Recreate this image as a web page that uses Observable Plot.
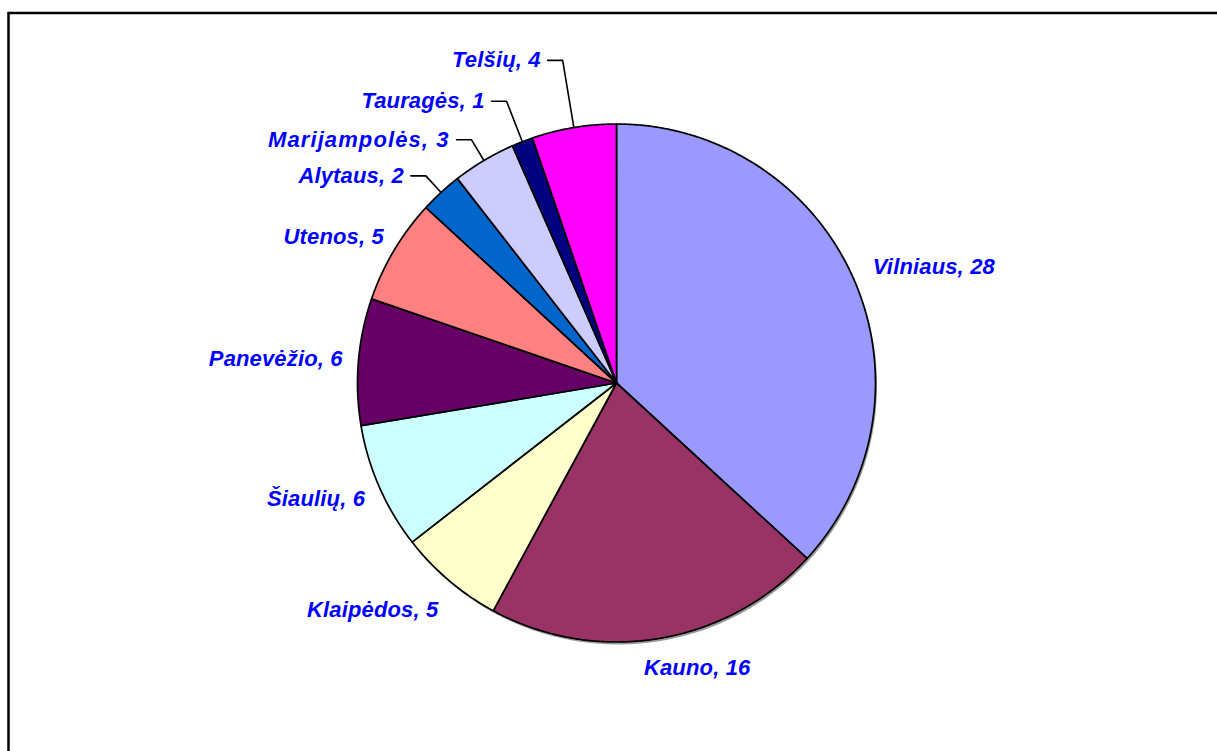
<!DOCTYPE html>
<html><head><meta charset="utf-8">
<script src="https://cdn.jsdelivr.net/npm/d3@7"></script>
<script src="https://cdn.jsdelivr.net/npm/@observablehq/plot@0.6"></script>
<style>html,body{margin:0;padding:0;background:#fff;overflow:hidden}</style>
</head><body><div id="chart"></div>
<script>
// ---- data ----
const regions = ["Vilniaus","Kauno","Klaipėdos","Šiaulių","Panevėžio","Utenos","Alytaus","Marijampolės","Tauragės","Telšių"];
const counts  = [28,16,5,6,6,5,2,3,1,4];
const colors  = ["#9999FF","#993366","#FFFFCC","#CCFFFF","#660066","#FF8080","#0066CC","#CCCCFF","#000080","#FF00FF"];
const leaderRegions = ["Alytaus","Marijampolės","Tauragės","Telšių"];

// ---- layout ----
const W = 1217, H = 751, CX = 616, CY = 382.5, R = 259;
const FONT_SIZE = 22, LS = 0.15, GAP = 20;
const leaderRadius = {"Alytaus":1.087,"Marijampolės":1.093,"Tauragės":1.168,"Telšių":1.263};
const nudge = {"Vilniaus":[6,0],"Panevėžio":[4,0],"Kauno":[26,0],"Utenos":[0,2],"Klaipėdos":[-21,6]};

const arcs = d3.pie().sort(null).value(d => d)(counts);
const slices = arcs.map((a, i) => ({
  name: regions[i], value: counts[i], color: colors[i],
  a0: a.startAngle, a1: a.endAngle, mid: (a.startAngle + a.endAngle) / 2
}));

// slice polygons in unit-circle coordinates
const slicePts = slices.flatMap(s => {
  const n = Math.max(2, Math.ceil((s.a1 - s.a0) / (Math.PI / 360)));
  const pts = [{name: s.name, color: s.color, x: 0, y: 0}];
  for (let k = 0; k <= n; k++) {
    const a = s.a0 + (s.a1 - s.a0) * k / n;
    pts.push({name: s.name, color: s.color, x: Math.sin(a), y: Math.cos(a)});
  }
  pts.push({name: s.name, color: s.color, x: 0, y: 0});
  return pts;
});
const circlePts = d3.range(0, 721).map(k => ({x: Math.sin(k * Math.PI / 360), y: Math.cos(k * Math.PI / 360)}));

// label text widths
const ctx = document.createElement("canvas").getContext("2d");
ctx.font = `italic bold ${FONT_SIZE}px 'Liberation Sans'`;
const textW = t => ctx.measureText(t).width + LS * t.length;

const labels = [];
const leaderPts = [];
for (const s of slices) {
  const text = `${s.name}, ${s.value}`;
  const sin = Math.sin(s.mid), cos = Math.cos(s.mid);
  if (leaderRegions.includes(s.name)) {
    const rb = leaderRadius[s.name];
    const bx = sin * rb, by = cos * rb;
    leaderPts.push({name: s.name, x: sin, y: cos});
    leaderPts.push({name: s.name, x: bx, y: by});
    leaderPts.push({name: s.name, x: bx - 15 / R, y: by});
    labels.push({text, x: bx - 22 / R, y: by, anchor: "end"});
  } else {
    const w = textW(text), h = 20;
    const px = (R + GAP) * sin, py = -(R + GAP) * cos; // screen px rel. to center (y down)
    let cx = px + sin * w / 2, cy = py - cos * h / 2;
    const nd = nudge[s.name] || [0, 0];
    cx += nd[0]; cy += nd[1];
    let anchor, ax;
    if (Math.abs(sin) < 0.3) { anchor = "middle"; ax = cx; }
    else if (sin > 0) { anchor = "start"; ax = cx - w / 2; }
    else { anchor = "end"; ax = cx + w / 2; }
    labels.push({text, x: ax / R, y: -cy / R, anchor});
  }
}

const textOpts = {
  x: "x", y: "y", text: "text", fill: "#0000FF", fontSize: FONT_SIZE,
  fontWeight: "bold", fontStyle: "italic", fontFamily: "'Liberation Sans', Arial, sans-serif",
  lineAnchor: "middle"
};

const chart = Plot.plot({
  width: W, height: H,
  margin: 0,
  style: `background:#fff; letter-spacing:${LS}px;`,
  x: {domain: [-CX / R, (W - CX) / R], range: [0, W], axis: null},
  y: {domain: [-(H - CY) / R, CY / R], range: [H, 0], axis: null},
  color: {type: "identity"},
  marks: [
    Plot.frame({stroke: "black", strokeWidth: 2.5, insetLeft: 8, insetTop: 12.5, insetRight: -10, insetBottom: -10}),
    Plot.line(circlePts, {x: "x", y: "y", fill: "#9a9a9a", stroke: "none", dx: 1.5, dy: 2.5}),
    Plot.line(slicePts, {x: "x", y: "y", z: "name", fill: "color", stroke: "black", strokeWidth: 1.7, strokeLinejoin: "round"}),
    Plot.line(leaderPts, {x: "x", y: "y", z: "name", stroke: "black", strokeWidth: 1.6}),
    Plot.text(labels.filter(d => d.anchor === "end"), {...textOpts, textAnchor: "end"}),
    Plot.text(labels.filter(d => d.anchor === "start"), {...textOpts, textAnchor: "start"}),
    Plot.text(labels.filter(d => d.anchor === "middle"), {...textOpts, textAnchor: "middle"})
  ]
});
// the reference renders this one label with wider letter spacing
chart.querySelectorAll("text").forEach(t => {
  if (t.textContent.startsWith("Marijampolės")) t.style.letterSpacing = "1.1px";
});
document.getElementById("chart").appendChild(chart);
</script>
</body></html>
